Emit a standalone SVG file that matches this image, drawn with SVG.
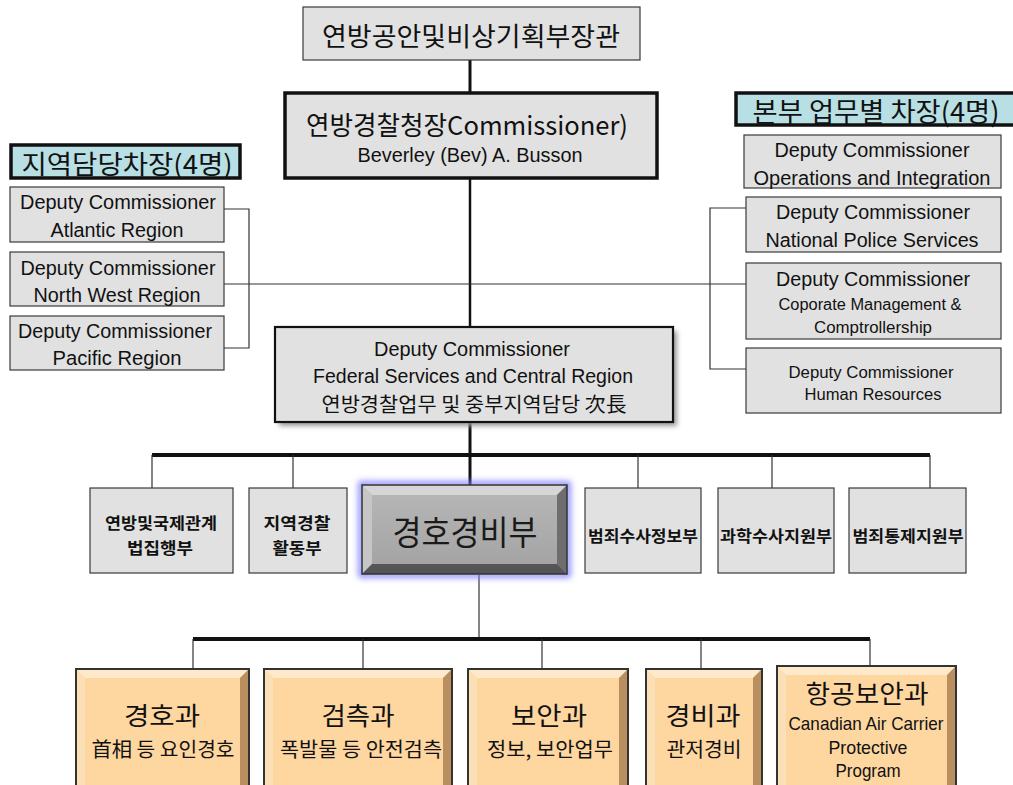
<svg xmlns="http://www.w3.org/2000/svg" width="1013" height="785" viewBox="0 0 1013 785">
<defs>
<style>
.box{fill:#e1e1e1;stroke:#3a3a3a;stroke-width:1.2}
.thick{fill:#e1e1e1;stroke:#111;stroke-width:3.5}
.hdr{fill:#b8dfe4;stroke:#111;stroke-width:3.5}
.ko{font-family:"Noto Sans CJK KR","Noto Sans",sans-serif;fill:#111;text-anchor:middle;dominant-baseline:central}
.kob{font-family:"Noto Sans CJK KR","Noto Sans",sans-serif;font-weight:bold;fill:#111;text-anchor:middle;dominant-baseline:central}
.en{font-family:"Liberation Sans",Arial,sans-serif;fill:#111;text-anchor:middle;dominant-baseline:central}
.thin{stroke:#333;stroke-width:1.2;fill:none}
.bar{stroke:#111;stroke-width:4;fill:none}
.vert{stroke:#111;stroke-width:3;fill:none}
.oface{fill:#fdd6a0}
.otop{fill:#fee9cb}
.oleft{fill:#fbdfb6}
.oright{fill:#b98f60}
.oborder{fill:none;stroke:#333;stroke-width:2}
</style>
<filter id="glow" x="-20%" y="-20%" width="140%" height="140%">
<feGaussianBlur stdDeviation="3"/>
</filter>
<filter id="shadow" x="-10%" y="-10%" width="130%" height="130%">
<feGaussianBlur stdDeviation="2.5"/>
</filter>
<linearGradient id="gface" x1="0" y1="0" x2="0" y2="1">
<stop offset="0" stop-color="#b8b8b8"/>
<stop offset="1" stop-color="#a2a2a2"/>
</linearGradient>
</defs>

<g id="connectors">
<line class="vert" x1="470" y1="60" x2="470" y2="92"/>
<line class="vert" x1="470" y1="178" x2="470" y2="327" style="stroke-width:2.5"/>
<line class="vert" x1="470" y1="422" x2="470" y2="487"/>
<line class="bar" x1="152" y1="455" x2="930" y2="455"/>
<polyline class="thin" points="152,455 152,488"/>
<polyline class="thin" points="293,455 293,488"/>
<polyline class="thin" points="638,455 638,488"/>
<polyline class="thin" points="772,455 772,488"/>
<polyline class="thin" points="930,455 930,488"/>
<polyline class="thin" points="224,209 249,209 249,348 224,348"/>
<line class="thin" x1="224" y1="284" x2="746" y2="284"/>
<polyline class="thin" points="746,208 710,208 710,369 746,369"/>
<line class="thin" x1="479" y1="575" x2="479" y2="639"/>
<line class="bar" x1="193" y1="639" x2="870" y2="639"/>
<polyline class="thin" points="193,639 193,669"/>
<polyline class="thin" points="363,639 363,669"/>
<polyline class="thin" points="542,639 542,669"/>
<polyline class="thin" points="701,639 701,669"/>
<polyline class="thin" points="870,639 870,666"/>
</g>

<g id="minister">
<rect class="box" x="303" y="7" width="337" height="53"/>
<text class="ko" x="471" y="34" font-size="26" textLength="298" lengthAdjust="spacingAndGlyphs">연방공안및비상기획부장관</text>
</g>

<g id="commissioner">
<rect class="thick" x="285" y="93" width="372" height="85"/>
<text class="ko" x="467" y="123" font-size="26" textLength="322" lengthAdjust="spacingAndGlyphs">연방경찰청장Commissioner)</text>
<text class="en" x="470" y="155" font-size="20" textLength="225" lengthAdjust="spacingAndGlyphs">Beverley (Bev) A. Busson</text>
</g>

<g id="hdr-left">
<rect class="hdr" x="11" y="145" width="229" height="33"/>
<text class="ko" x="127" y="162" font-size="26" textLength="211" lengthAdjust="spacingAndGlyphs">지역담당차장(4명)</text>
</g>

<g id="dc-atlantic">
<rect class="box" x="10" y="187" width="214" height="55"/>
<text class="en" x="118" y="202" font-size="20" textLength="196" lengthAdjust="spacingAndGlyphs">Deputy Commissioner</text>
<text class="en" x="117" y="230" font-size="20" textLength="133" lengthAdjust="spacingAndGlyphs">Atlantic Region</text>
</g>

<g id="dc-northwest">
<rect class="box" x="10" y="252" width="214" height="54"/>
<text class="en" x="118" y="268" font-size="20" textLength="195" lengthAdjust="spacingAndGlyphs">Deputy Commissioner</text>
<text class="en" x="117" y="295" font-size="20" textLength="167" lengthAdjust="spacingAndGlyphs">North West Region</text>
</g>

<g id="dc-pacific">
<rect class="box" x="10" y="316" width="214" height="54"/>
<text class="en" x="115" y="331" font-size="20" textLength="194" lengthAdjust="spacingAndGlyphs">Deputy Commissioner</text>
<text class="en" x="117" y="358" font-size="20" textLength="129" lengthAdjust="spacingAndGlyphs">Pacific Region</text>
</g>

<g id="hdr-right">
<rect class="hdr" x="736" y="93" width="290" height="32"/>
<text class="ko" x="876" y="110" font-size="27" textLength="247" lengthAdjust="spacingAndGlyphs">본부 업무별 차장(4명)</text>
</g>

<g id="dc-operations">
<rect class="box" x="744" y="135" width="257" height="53"/>
<text class="en" x="872" y="150" font-size="20" textLength="195" lengthAdjust="spacingAndGlyphs">Deputy Commissioner</text>
<text class="en" x="872" y="178" font-size="20" textLength="237" lengthAdjust="spacingAndGlyphs">Operations and Integration</text>
</g>

<g id="dc-national">
<rect class="box" x="746" y="197" width="255" height="55"/>
<text class="en" x="873" y="212" font-size="20" textLength="194" lengthAdjust="spacingAndGlyphs">Deputy Commissioner</text>
<text class="en" x="872" y="240" font-size="20" textLength="213" lengthAdjust="spacingAndGlyphs">National Police Services</text>
</g>

<g id="dc-corporate">
<rect class="box" x="746" y="263" width="255" height="76"/>
<text class="en" x="873" y="279" font-size="20" textLength="194" lengthAdjust="spacingAndGlyphs">Deputy Commissioner</text>
<text class="en" x="870" y="304" font-size="16" textLength="183" lengthAdjust="spacingAndGlyphs">Coporate Management &amp;</text>
<text class="en" x="873" y="327" font-size="16" textLength="118" lengthAdjust="spacingAndGlyphs">Comptrollership</text>
</g>

<g id="dc-hr">
<rect class="box" x="746" y="348" width="255" height="65"/>
<text class="en" x="871" y="372" font-size="16" textLength="165" lengthAdjust="spacingAndGlyphs">Deputy Commissioner</text>
<text class="en" x="873" y="394" font-size="16" textLength="137" lengthAdjust="spacingAndGlyphs">Human Resources</text>
</g>

<g id="dc-federal">
<rect x="279" y="331" width="398" height="95" fill="#999" filter="url(#shadow)"/>
<rect class="box" x="275" y="327" width="398" height="95" style="stroke:#111;stroke-width:2.2"/>
<text class="en" x="472" y="349" font-size="20" textLength="196" lengthAdjust="spacingAndGlyphs">Deputy Commissioner</text>
<text class="en" x="473" y="376" font-size="20" textLength="320" lengthAdjust="spacingAndGlyphs">Federal Services and Central Region</text>
<text class="ko" x="474" y="403" font-size="20" textLength="305" lengthAdjust="spacingAndGlyphs">연방경찰업무 및 중부지역담당  次長</text>
</g>

<g id="dept-federal-intl">
<rect class="box" x="90" y="488" width="143" height="85"/>
<text class="kob" x="161" y="522" font-size="16" textLength="112" lengthAdjust="spacingAndGlyphs">연방및국제관계</text>
<text class="kob" x="160" y="547" font-size="16" textLength="66" lengthAdjust="spacingAndGlyphs">법집행부</text>
</g>

<g id="dept-regional">
<rect class="box" x="249" y="488" width="98" height="85"/>
<text class="kob" x="297" y="522" font-size="16" textLength="67" lengthAdjust="spacingAndGlyphs">지역경찰</text>
<text class="kob" x="297" y="547" font-size="16" textLength="49" lengthAdjust="spacingAndGlyphs">활동부</text>
</g>

<g id="dept-protective">
<rect x="361" y="484" width="207" height="91" fill="none" stroke="#7d7dff" stroke-width="5" filter="url(#glow)"/>
<rect x="362" y="485" width="205" height="89" fill="url(#gface)"/>
<polygon points="362,485 567,485 557,495 372,495" fill="#d6d6d6"/>
<polygon points="362,485 372,495 372,564 362,574" fill="#c6c6c6"/>
<polygon points="567,485 567,574 557,564 557,495" fill="#6e6e6e"/>
<polygon points="362,574 567,574 557,564 372,564" fill="#555"/>
<rect x="362" y="485" width="205" height="89" fill="none" stroke="#333" stroke-width="1.5"/>
<text class="ko" x="465" y="530" font-size="34" textLength="145" lengthAdjust="spacingAndGlyphs" style="fill:#1a1a1a">경호경비부</text>
</g>

<g id="dept-crime-intel">
<rect class="box" x="585" y="488" width="116" height="85"/>
<text class="kob" x="643" y="535" font-size="16" textLength="110" lengthAdjust="spacingAndGlyphs">범죄수사정보부</text>
</g>

<g id="dept-forensic">
<rect class="box" x="718" y="488" width="116" height="85"/>
<text class="kob" x="776" y="535" font-size="16" textLength="112" lengthAdjust="spacingAndGlyphs">과학수사지원부</text>
</g>

<g id="dept-crime-control">
<rect class="box" x="849" y="488" width="117" height="85"/>
<text class="kob" x="908" y="535" font-size="16" textLength="111" lengthAdjust="spacingAndGlyphs">범죄통제지원부</text>
</g>

<g id="div-escort">
<rect class="oface" x="76" y="669" width="173" height="125"/>
<polygon class="otop" points="76,669 249,669 240,678 85,678"/>
<polygon class="oleft" points="76,669 85,678 85,785 76,794"/>
<polygon class="oright" points="249,669 249,794 240,785 240,678"/>
<rect class="oborder" x="76" y="669" width="173" height="125"/>
<text class="ko" x="162" y="714" font-size="25" textLength="76" lengthAdjust="spacingAndGlyphs">경호과</text>
<text class="ko" x="163" y="748" font-size="20" textLength="143" lengthAdjust="spacingAndGlyphs">首相 등 요인경호</text>
</g>

<g id="div-inspection">
<rect class="oface" x="264" y="669" width="188" height="125"/>
<polygon class="otop" points="264,669 452,669 443,678 273,678"/>
<polygon class="oleft" points="264,669 273,678 273,785 264,794"/>
<polygon class="oright" points="452,669 452,794 443,785 443,678"/>
<rect class="oborder" x="264" y="669" width="188" height="125"/>
<text class="ko" x="358" y="714" font-size="25" textLength="73" lengthAdjust="spacingAndGlyphs">검측과</text>
<text class="ko" x="361" y="748" font-size="20" textLength="162" lengthAdjust="spacingAndGlyphs">폭발물 등 안전검측</text>
</g>

<g id="div-security">
<rect class="oface" x="468" y="669" width="160" height="125"/>
<polygon class="otop" points="468,669 628,669 619,678 477,678"/>
<polygon class="oleft" points="468,669 477,678 477,785 468,794"/>
<polygon class="oright" points="628,669 628,794 619,785 619,678"/>
<rect class="oborder" x="468" y="669" width="160" height="125"/>
<text class="ko" x="549" y="714" font-size="25" textLength="76" lengthAdjust="spacingAndGlyphs">보안과</text>
<text class="ko" x="550" y="748" font-size="20" textLength="126" lengthAdjust="spacingAndGlyphs">정보, 보안업무</text>
</g>

<g id="div-guard">
<rect class="oface" x="646" y="669" width="116" height="125"/>
<polygon class="otop" points="646,669 762,669 753,678 655,678"/>
<polygon class="oleft" points="646,669 655,678 655,785 646,794"/>
<polygon class="oright" points="762,669 762,794 753,785 753,678"/>
<rect class="oborder" x="646" y="669" width="116" height="125"/>
<text class="ko" x="703" y="714" font-size="25" textLength="75" lengthAdjust="spacingAndGlyphs">경비과</text>
<text class="ko" x="704" y="748" font-size="20" textLength="75" lengthAdjust="spacingAndGlyphs">관저경비</text>
</g>

<g id="div-aviation">
<rect class="oface" x="777" y="666" width="179" height="128"/>
<polygon class="otop" points="777,666 956,666 947,675 786,675"/>
<polygon class="oleft" points="777,666 786,675 786,785 777,794"/>
<polygon class="oright" points="956,666 956,794 947,785 947,675"/>
<rect class="oborder" x="777" y="666" width="179" height="128"/>
<text class="ko" x="867" y="692" font-size="25" textLength="123" lengthAdjust="spacingAndGlyphs">항공보안과</text>
<text class="en" x="866" y="723" font-size="19" textLength="155" lengthAdjust="spacingAndGlyphs">Canadian Air Carrier</text>
<text class="en" x="868" y="747" font-size="19" textLength="79" lengthAdjust="spacingAndGlyphs">Protective</text>
<text class="en" x="868" y="770" font-size="19" textLength="65" lengthAdjust="spacingAndGlyphs">Program</text>
</g>
</svg>
